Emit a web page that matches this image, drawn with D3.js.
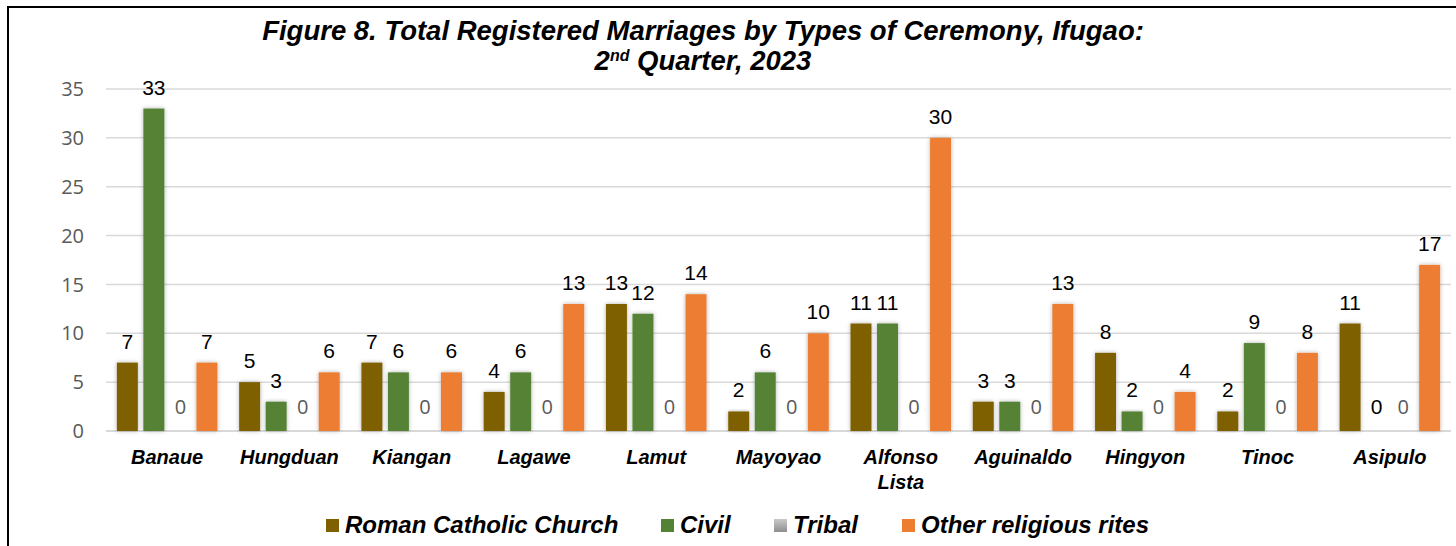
<!DOCTYPE html>
<html>
<head>
<meta charset="utf-8">
<script src="https://d3js.org/d3.v7.min.js"></script>
<style>
  body { margin: 0; background: #fff; }
  svg { display: block; }
</style>
</head>
<body>
<script>
  // data
  var municipalities = ["Banaue", "Hungduan", "Kiangan", "Lagawe", "Lamut", "Mayoyao",
    "Alfonso Lista", "Aguinaldo", "Hingyon", "Tinoc", "Asipulo"];
  var seriesNames = ["Roman Catholic Church", "Civil", "Tribal", "Other religious rites"];
  var romanCatholic = [7, 5, 7, 4, 13, 2, 11, 3, 8, 2, 11];
  var civil = [33, 3, 6, 6, 12, 6, 11, 3, 2, 9, 0];
  var tribal = [0, 0, 0, 0, 0, 0, 0, 0, 0, 0, 0];
  var otherRites = [7, 6, 6, 13, 14, 10, 30, 13, 4, 8, 17];
  var yTicks = [0, 5, 10, 15, 20, 25, 30, 35];

  var seriesValues = [romanCatholic, civil, tribal, otherRites];
  var colors = ["#7f6000", "#548235", "#a5a5a5", "#ed7d31"];
  var labelColors = ["#000", "#000", "#595959", "#000"];

  var W = 1456, H = 546;

  var svg = d3.select("body").append("svg")
    .attr("width", W)
    .attr("height", H);

  // shadow like the office chart
  var defs = svg.append("defs");
  var f = defs.append("filter").attr("id", "shadow")
    .attr("x", "-30%").attr("y", "-10%").attr("width", "160%").attr("height", "120%");
  f.append("feDropShadow").attr("dx", 0).attr("dy", 0).attr("stdDeviation", 2)
    .attr("flood-color", "#000").attr("flood-opacity", 0.3);
  var grad = defs.append("linearGradient").attr("id", "grayGrad")
    .attr("x1", 0).attr("y1", 0).attr("x2", 0).attr("y2", 1);
  grad.append("stop").attr("offset", "0%").attr("stop-color", "#c9c9c9");
  grad.append("stop").attr("offset", "100%").attr("stop-color", "#8f8f8f");

  // frame (left and top edges)
  svg.append("line").attr("x1", 8).attr("x2", W).attr("y1", 7).attr("y2", 7)
    .attr("stroke", "#000").attr("stroke-width", 2);
  svg.append("line").attr("x1", 8).attr("x2", 8).attr("y1", 6).attr("y2", H)
    .attr("stroke", "#000").attr("stroke-width", 2);

  var x0 = d3.scaleBand()
    .domain(municipalities)
    .range([106, 1451])
    .padding(0);

  var x1 = d3.scaleBand()
    .domain(seriesNames)
    .range([0, x0.bandwidth()])
    .paddingInner(0.21)
    .paddingOuter(0.41);

  var y = d3.scaleLinear()
    .domain([0, 35])
    .range([431, 89]);

  // gridlines
  svg.append("g")
    .selectAll("line")
    .data(yTicks)
    .enter()
    .append("line")
    .attr("x1", 106).attr("x2", 1451)
    .attr("y1", function (d) { return y(d); })
    .attr("y2", function (d) { return y(d); })
    .attr("stroke", "#d9d9d9")
    .attr("stroke-width", function (d) { return d === 0 ? 2 : 1.5; });

  // y tick labels
  svg.append("g")
    .selectAll("text")
    .data(yTicks)
    .enter()
    .append("text")
    .attr("x", 84)
    .attr("y", function (d) { return y(d); })
    .attr("dy", "0.36em")
    .attr("text-anchor", "end")
    .style("font-family", "'Open Sans', sans-serif")
    .style("font-size", "20px")
    .style("fill", "#595959")
    .text(function (d) { return d; });

  // bars
  var groups = svg.append("g")
    .selectAll("g")
    .data(municipalities)
    .enter()
    .append("g")
    .attr("transform", function (d) { return "translate(" + x0(d) + ",0)"; });

  var cells = groups.selectAll("g")
    .data(function (d, i) {
      return seriesNames.map(function (s, j) {
        return { series: s, j: j, value: seriesValues[j][i] };
      });
    })
    .enter()
    .append("g");

  cells.filter(function (d) { return d.value > 0; })
    .append("rect")
    .attr("x", function (d) { return x1(d.series); })
    .attr("width", x1.bandwidth())
    .attr("y", function (d) { return y(d.value); })
    .attr("height", function (d) { return y(0) - y(d.value); })
    .attr("fill", function (d) { return d.j === 2 ? "url(#grayGrad)" : colors[d.j]; })
    .attr("filter", "url(#shadow)");

  // data labels
  cells.append("text")
    .attr("x", function (d) { return x1(d.series) + x1.bandwidth() / 2; })
    .attr("y", function (d) { return y(d.value) - (d.value === 0 ? 17 : 14); })
    .attr("text-anchor", "middle")
    .style("font-family", function (d) { return d.j === 2 ? "'Open Sans', sans-serif" : "'Liberation Sans', Arial, sans-serif"; })
    .style("font-size", function (d) { return d.j === 2 ? "20px" : "21px"; })
    .style("fill", function (d) { return labelColors[d.j]; })
    .text(function (d) { return d.value; });

  // category labels
  svg.append("g")
    .selectAll("text")
    .data(municipalities)
    .enter()
    .append("text")
    .attr("x", function (d) { return x0(d) + x0.bandwidth() / 2; })
    .attr("y", 464)
    .attr("text-anchor", "middle")
    .style("font-family", "'Liberation Sans', Arial, sans-serif")
    .style("font-size", "20px")
    .style("font-weight", "bold")
    .style("font-style", "italic")
    .each(function (d) {
      var words = d.split(" ");
      var t = d3.select(this);
      words.forEach(function (w, k) {
        t.append("tspan")
          .attr("x", x0(d) + x0.bandwidth() / 2)
          .attr("dy", k === 0 ? 0 : 25)
          .text(w);
      });
    });

  // title
  svg.append("text")
    .attr("x", 703)
    .attr("y", 40)
    .attr("text-anchor", "middle")
    .style("font-family", "'Liberation Sans', Arial, sans-serif")
    .style("font-size", "27.5px")
    .style("font-weight", "bold")
    .style("font-style", "italic")
    .text("Figure 8. Total Registered Marriages by Types of Ceremony, Ifugao:");
  var t2 = svg.append("text")
    .attr("x", 703)
    .attr("y", 70)
    .attr("text-anchor", "middle")
    .style("font-family", "'Liberation Sans', Arial, sans-serif")
    .style("font-size", "27.5px")
    .style("font-weight", "bold")
    .style("font-style", "italic");
  t2.append("tspan").text("2");
  t2.append("tspan").attr("dy", -9).style("font-size", "16px").text("nd");
  t2.append("tspan").attr("dy", 9).text(" Quarter, 2023");

  // legend
  var legendX = [326, 661, 774, 902];
  var legend = svg.append("g")
    .selectAll("g")
    .data(seriesNames)
    .enter()
    .append("g")
    .attr("transform", function (d, i) { return "translate(" + legendX[i] + ",519)"; });
  legend.append("rect")
    .attr("width", 13).attr("height", 13)
    .attr("fill", function (d, i) { return i === 2 ? "url(#grayGrad)" : colors[i]; });
  legend.append("text")
    .attr("x", 19)
    .attr("y", 14)
    .style("font-family", "'Liberation Sans', Arial, sans-serif")
    .style("font-size", "24px")
    .style("font-weight", "bold")
    .style("font-style", "italic")
    .text(function (d) { return d; });
</script>
</body>
</html>
